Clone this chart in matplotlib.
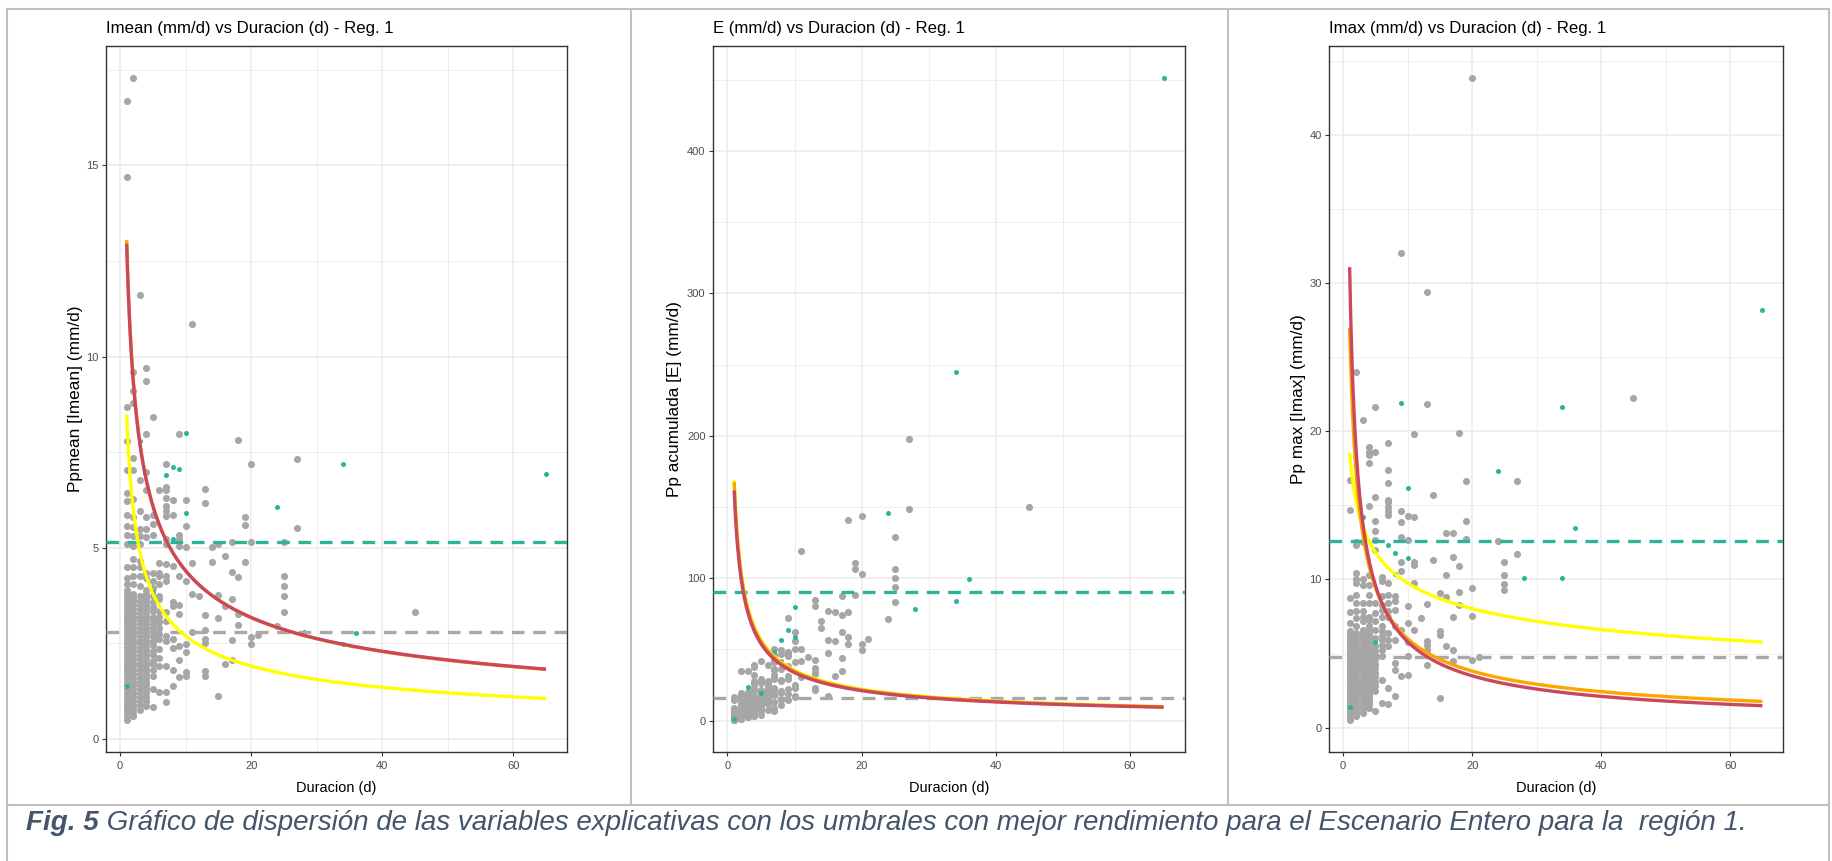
import numpy as np
import matplotlib
matplotlib.use('Agg')
import matplotlib.pyplot as plt
from matplotlib import font_manager as fm
from matplotlib.lines import Line2D

W, H = 1832, 861

def has_font(name):
    try:
        fm.findfont(fm.FontProperties(family=name), fallback_to_default=False)
        return True
    except Exception:
        return False

if has_font('Liberation Sans Narrow'):
    NARROW, NS = 'Liberation Sans Narrow', 1.0
else:
    NARROW, NS = 'Liberation Sans', 0.84
SANS = 'Liberation Sans'

# ------------------------------------------------------------------ data
# grey events: (duration in days, list of mean intensities Imean in mm/d)
imean_grey = [
    (1, [16.68, 14.69, 8.69, 7.79, 7.03, 6.44, 6.22, 5.87, 5.57, 5.34, 5.1, 4.5, 4.22, 4.05, 3.9, 3.8, 3.7, 3.6,
         3.5, 3.4, 3.3, 3.2, 3.1, 3.0, 2.9, 2.8, 2.7, 2.6, 2.5, 2.4, 2.3, 2.2, 2.1, 2.0, 1.9, 1.8, 1.7, 1.6, 1.5,
         1.4, 1.3, 1.2, 1.1, 1.0, 0.9, 0.8, 0.7, 0.6, 0.5]),
    (2, [17.28, 9.6, 9.1, 8.79, 7.34, 7.03, 6.27, 5.81, 5.54, 5.3, 5.05, 4.7, 4.5, 4.25, 4.05, 3.8, 3.7, 3.6, 3.5,
         3.4, 3.3, 3.2, 3.1, 3.0, 2.9, 2.8, 2.7, 2.6, 2.5, 2.4, 2.3, 2.2, 2.1, 2.0, 1.9, 1.8, 1.7, 1.6, 1.5, 1.4,
         1.3, 1.2, 1.1, 1.0, 0.9, 0.8, 0.7, 0.6]),
    (3, [11.61, 6.77, 5.97, 5.5, 5.3, 5.09, 4.66, 4.5, 4.26, 4.0, 3.75, 3.6, 3.5, 3.4, 3.3, 3.2, 3.1, 3.0, 2.9,
         2.8, 2.7, 2.6, 2.5, 2.4, 2.3, 2.2, 2.1, 2.0, 1.9, 1.8, 1.7, 1.6, 1.5, 1.4, 1.3, 1.2, 1.1, 1.0, 0.9, 0.75]),
    (4, [9.69, 9.35, 7.97, 6.98, 6.51, 5.81, 5.5, 5.27, 4.35, 4.22, 3.9, 3.8, 3.7, 3.6, 3.5, 3.4, 3.3, 3.2, 3.1,
         3.0, 2.9, 2.8, 2.7, 2.6, 2.5, 2.4, 2.3, 2.2, 2.1, 2.0, 1.9, 1.8, 1.7, 1.6, 1.5, 1.4, 1.3, 1.2, 1.1, 1.0,
         0.87]),
    (5, [8.43, 5.85, 5.61, 5.33, 4.35, 4.13, 3.96, 3.74, 3.57, 3.45, 3.35, 3.2, 3.1, 3.0, 2.9, 2.8, 2.7, 2.55,
         2.45, 2.3, 2.2, 2.05, 1.95, 1.8, 1.65, 1.31, 0.83]),
    (6, [6.5, 4.61, 4.35, 4.26, 4.05, 3.74, 3.66, 3.35, 3.2, 3.05, 2.9, 2.75, 2.61, 2.35, 2.13, 1.9, 1.24]),
    (7, [7.2, 6.6, 6.51, 6.31, 6.09, 5.96, 5.83, 5.22, 5.09, 4.57, 4.26, 4.13, 3.31, 3.09, 2.7, 2.57, 1.9, 1.22,
         0.96]),
    (8, [6.24, 5.85, 4.53, 3.57, 3.48, 2.61, 2.39, 1.81, 1.39]),
    (9, [7.97, 5.34, 5.22, 5.05, 4.26, 3.5, 3.28, 2.44, 2.07, 1.61]),
    (10, [6.24, 5.57, 5.01, 4.13, 2.48, 2.28, 1.74, 1.64]),
    (11, [10.84, 4.59, 3.8, 2.8]),
    (12, [3.74]),
    (13, [6.53, 6.17, 3.25, 2.84, 2.61, 2.5, 1.78, 1.64]),
    (14, [5.02, 4.64]),
    (15, [5.11, 3.76, 3.17, 1.13]),
    (16, [4.78, 3.48, 1.95]),
    (17, [5.16, 4.37, 3.67, 2.59, 2.06]),
    (18, [7.82, 4.23, 3.26, 2.99]),
    (19, [5.81, 5.6, 4.64]),
    (20, [7.18, 5.16, 2.68, 2.48]),
    (21, [2.73]),
    (24, [2.96]),
    (25, [5.16, 4.27, 4.01, 3.74, 3.32]),
    (27, [7.32, 5.51]),
    (45, [3.33]),
]

# teal (highlighted) events
teal_dur = [1, 3, 5, 7, 8, 8, 9, 10, 10, 24, 28, 34, 34, 36, 65]
teal_imean = [1.39, 7.8, 3.85, 6.9, 7.1, 5.24, 7.05, 8.0, 5.9, 6.06, 2.8, 7.2, 2.48, 2.77, 6.94]
teal_imax = [1.39, 14.2, 5.8, 12.35, 11.8, 10.4, 21.9, 16.16, 11.44, 17.3, 10.1, 21.67, 10.1, 13.49, 28.2]

# grey events: (duration, list of maximum intensities Imax in mm/d)
imax_grey = [
    (1, [16.72, 14.7, 8.74, 7.8, 7.06, 6.5, 6.3, 6.1, 5.9, 5.7, 5.5, 5.3, 5.1, 4.9, 4.7, 4.5, 4.3, 4.1, 3.9, 3.7,
         3.5, 3.3, 3.1, 2.9, 2.7, 2.5, 2.3, 2.1, 1.9, 1.7, 1.5, 1.3, 1.1, 0.9, 0.7, 0.5]),
    (2, [24.0, 12.56, 12.34, 10.43, 10.0, 9.76, 8.97, 8.41, 7.84, 7.39, 6.83, 6.4, 6.2, 6.0, 5.8, 5.6, 5.4, 5.2,
         5.0, 4.8, 4.6, 4.4, 4.2, 4.0, 3.8, 3.6, 3.4, 3.2, 3.0, 2.8, 2.6, 2.4, 2.2, 2.0, 1.8, 1.6, 1.4, 1.2, 1.0,
         0.8]),
    (3, [20.79, 12.5, 10.0, 9.64, 8.41, 7.84, 7.5, 7.17, 6.6, 6.4, 6.2, 6.0, 5.8, 5.6, 5.4, 5.2, 5.0, 4.8, 4.6,
         4.4, 4.2, 4.0, 3.8, 3.6, 3.4, 3.2, 3.0, 2.8, 2.6, 2.4, 2.2, 2.0, 1.8, 1.6, 1.4, 1.2, 1.0]),
    (4, [18.97, 18.63, 18.4, 17.85, 14.97, 10.32, 9.64, 8.97, 8.41, 7.5, 7.28, 6.83, 6.6, 6.4, 6.2, 6.0, 5.8,
         5.6, 5.4, 5.2, 5.0, 4.8, 4.6, 4.4, 4.2, 4.0, 3.8, 3.6, 3.4, 3.2, 3.0, 2.8, 2.6, 2.4, 2.2, 2.0, 1.8, 1.6,
         1.35]),
    (5, [21.62, 18.63, 15.55, 13.98, 13.3, 12.68, 11.96, 8.41, 7.73, 7.17, 6.6, 6.05, 5.48, 5.2, 4.9, 4.6, 4.3,
         4.0, 3.7, 3.4, 3.1, 2.8, 2.5, 1.1]),
    (6, [10.2, 9.87, 8.86, 8.29, 7.96, 7.5, 6.83, 6.5, 6.2, 5.9, 5.6, 5.26, 4.81, 3.24, 1.66]),
    (7, [19.2, 17.4, 16.5, 15.37, 15.2, 14.9, 14.6, 14.36, 9.76, 8.97, 8.41, 7.84, 7.5, 6.38, 5.93, 5.48, 2.67,
         1.62]),
    (8, [8.86, 8.52, 7.96, 6.83, 5.93, 4.36, 3.87, 2.11]),
    (9, [32.07, 14.63, 13.9, 12.9, 11.2, 10.54, 6.6, 3.46]),
    (10, [14.3, 12.68, 8.18, 7.06, 5.8, 4.81, 3.57]),
    (11, [19.8, 14.2, 11.2, 11.0, 9.76, 6.6]),
    (12, [7.39]),
    (13, [29.42, 21.85, 8.36, 5.82, 5.6, 5.26, 4.2]),
    (14, [15.71, 11.33]),
    (15, [9.08, 6.5, 6.27, 2.0]),
    (16, [13.17, 10.32, 8.79, 5.48]),
    (17, [13.17, 11.49, 7.46, 5.26, 4.47]),
    (18, [19.87, 10.92, 9.15, 8.29]),
    (19, [16.66, 13.94, 12.72]),
    (20, [43.83, 9.4, 7.55, 4.54]),
    (21, [4.74]),
    (24, [12.59]),
    (25, [11.15, 10.27, 9.71, 9.3]),
    (27, [16.66, 11.73]),
    (45, [22.25]),
]

# threshold lines (teal = best threshold, grey = reference)
thr_imean = (5.15, 2.80)
thr_e = (90.6, 16.2)
thr_imax = (12.63, 4.74)

# power-law threshold curves  y = a * D^b   (yellow, orange, red)
curves_imean = [(8.48, -0.498), (13.05, -0.472), (12.95, -0.469)]
curves_e = [(169.0, -0.680), (167.5, -0.684), (161.6, -0.681)]
curves_imax = [(18.56, -0.2795), (27.0, -0.653), (31.09, -0.7295)]

titles = ["Imean (mm/d) vs Duracion (d) - Reg. 1",
          "E (mm/d) vs Duracion (d) - Reg. 1",
          "Imax (mm/d) vs Duracion (d) - Reg. 1"]
ylabels = ["Ppmean [Imean] (mm/d)", "Pp acumulada [E] (mm/d)", "Pp max [Imax] (mm/d)"]
xlabel = "Duracion (d)"
caption_bold = "Fig. 5"
caption_rest = (" Gráfico de dispersión de las variables explicativas con los umbrales con mejor "
                "rendimiento para el Escenario Entero para la  región 1.")


def flatten(cols):
    xs, ys = [], []
    for d, vals in cols:
        xs += [d] * len(vals)
        ys += list(vals)
    return np.array(xs, float), np.array(ys, float)


d_mean, v_mean = flatten(imean_grey)
d_max, v_max = flatten(imax_grey)
# accumulated precipitation E = Imean * duration
e_grey = v_mean * d_mean
teal_e = np.array(teal_imean) * np.array(teal_dur)

# ------------------------------------------------------------------ style
GREY_PT = '#A6A6A6'
TEAL = '#2BB39C'
GREY_DASH = '#A8A8A8'
CURVE_COLS = ['#FFFF00', '#FFA500', '#C9485E']
GRID = '#EBEBEB'
DARK = '#333333'

fig = plt.figure(figsize=(W / 100, H / 100), dpi=100)
fig.patch.set_facecolor('white')


def fx(x):
    return x / W


def fy(y):
    return 1 - y / H


panels = [
    dict(rect=(105.7, 46, 567, 752), ylab_x=75.5, xs=d_mean, ys=v_mean, ty=teal_imean, thr=thr_imean,
         curves=curves_imean, yt=[0, 5, 10, 15], ym=[2.5, 7.5, 12.5, 17.5]),
    dict(rect=(712.7, 46, 1185, 752), ylab_x=674.5, xs=d_mean, ys=e_grey, ty=teal_e, thr=thr_e,
         curves=curves_e, yt=[0, 100, 200, 300, 400], ym=[50, 150, 250, 350, 450]),
    dict(rect=(1329, 46.3, 1783, 752.3), ylab_x=1299, xs=d_max, ys=v_max, ty=teal_imax, thr=thr_imax,
         curves=curves_imax, yt=[0, 10, 20, 30, 40], ym=[5, 15, 25, 35, 45]),
]

for i, p in enumerate(panels):
    l, t, r, b = p['rect']
    ax = fig.add_axes([fx(l), fy(b), fx(r - l), (b - t) / H])
    allx = np.concatenate([p['xs'], teal_dur])
    ally = np.concatenate([p['ys'], p['ty']])
    xr = allx.max() - allx.min()
    yr = ally.max() - ally.min()
    ax.set_xlim(allx.min() - 0.05 * xr, allx.max() + 0.05 * xr)
    ax.set_ylim(ally.min() - 0.05 * yr, ally.max() + 0.05 * yr)

    ax.set_xticks([0, 20, 40, 60])
    ax.set_xticks([10, 30, 50], minor=True)
    ax.set_yticks(p['yt'])
    ax.set_yticks(p['ym'], minor=True)
    ax.set_axisbelow(True)
    ax.grid(which='major', color=GRID, lw=1.1)
    ax.grid(which='minor', color=GRID, lw=0.6)
    for s in ax.spines.values():
        s.set_color(DARK)
        s.set_linewidth(1.0)
    ax.tick_params(which='major', length=3.0, width=0.8, color=DARK, labelcolor='#4D4D4D',
                   labelsize=9.5 * NS if NS < 1 else 9.5)
    ax.tick_params(axis='x', which='major', pad=3.2)
    ax.tick_params(axis='y', which='major', pad=2.2)
    ax.tick_params(which='minor', length=0)
    for lab in ax.get_xticklabels() + ax.get_yticklabels():
        lab.set_fontfamily(NARROW)

    ax.scatter(p['xs'], p['ys'], s=26, color=GREY_PT, linewidths=0, zorder=2)
    ax.scatter(teal_dur, p['ty'], s=13, color=TEAL, linewidths=0, zorder=3)

    ax.axhline(p['thr'][0], color=TEAL, lw=2.4, ls=(0, (3.8, 2.6)), zorder=4)
    ax.axhline(p['thr'][1], color=GREY_DASH, lw=2.4, ls=(0, (3.8, 2.6)), zorder=4)

    xx = np.linspace(1, 65, 500)
    for k, (a, bb) in enumerate(p['curves']):
        ax.plot(xx, a * xx ** bb, color=CURVE_COLS[k], lw=2.4, zorder=5 + k, solid_capstyle='butt')

    ax.set_xlabel(xlabel, fontsize=12.4 * NS, family=NARROW, color='black')
    ax.xaxis.set_label_coords(0.5, (b - 791.7) / (b - t))
    ax.xaxis.label.set_va('baseline')
    ax.set_ylabel(ylabels[i], fontsize=12.4, family=SANS, color='black')
    ax.yaxis.set_label_coords((p['ylab_x'] - l) / (r - l), 0.5)
    ax.yaxis.label.set_va('center')
    ax.yaxis.label.set_ha('center')

    fig.text(fx(l), fy(33.3), titles[i], ha='left', va='baseline', fontsize=14.4 * NS,
             family=NARROW, color='black')

# ------------------------------------------------------------------ frame lines
BORDER = '#C0C0C0'
frame = [((7, 7), (8.5, 861)), ((1829, 1829), (8.5, 861)), ((7, 1829), (8.5, 8.5)),
         ((7, 1829), (804.5, 804.5)), ((631, 631), (8.5, 804.5)), ((1228, 1228), (8.5, 804.5))]
for (x0, x1), (y0, y1) in frame:
    fig.add_artist(Line2D([fx(x0), fx(x1)], [fy(y0), fy(y1)], color=BORDER, lw=1.5,
                          transform=fig.transFigure))

# ------------------------------------------------------------------ caption
CAP = '#44546A'
t1 = fig.text(fx(26), fy(830), caption_bold, ha='left', va='baseline', fontsize=20,
              family=SANS, style='italic', weight='bold', color=CAP)
fig.canvas.draw()
bb = t1.get_window_extent(renderer=fig.canvas.get_renderer())
fig.text(bb.x1 / W, fy(830), caption_rest, ha='left', va='baseline', fontsize=20,
         family=SANS, style='italic', color=CAP)

fig.savefig('out.png', dpi=100, facecolor='white')
